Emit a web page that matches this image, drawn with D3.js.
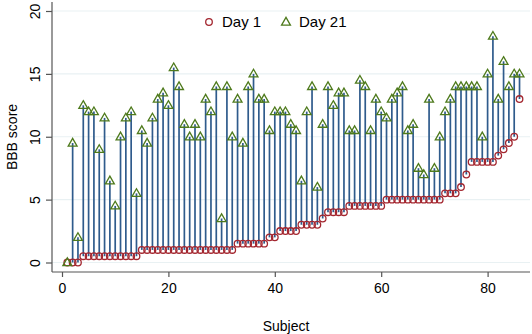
<!DOCTYPE html>
<html>
<head>
<meta charset="utf-8">
<script src="https://cdn.jsdelivr.net/npm/d3@7"></script>
<style>
  body { margin: 0; background: #fff; }
  svg text { font-family: "Liberation Sans", Arial, sans-serif; fill: #000; }
</style>
</head>
<body>
<div id="chart"></div>
<script>
// BBB score per subject
var subjects = d3.range(1, 87);

var day1 = [0, 0, 0,
    0.5, 0.5, 0.5, 0.5, 0.5, 0.5, 0.5, 0.5, 0.5, 0.5, 0.5,
    1, 1, 1, 1, 1, 1, 1, 1, 1, 1, 1, 1, 1, 1, 1, 1, 1, 1,
    1.5, 1.5, 1.5, 1.5, 1.5, 1.5,
    2, 2,
    2.5, 2.5, 2.5, 2.5,
    3, 3, 3, 3,
    3.5,
    4, 4, 4, 4,
    4.5, 4.5, 4.5, 4.5, 4.5, 4.5, 4.5,
    5, 5, 5, 5, 5, 5, 5, 5, 5, 5, 5,
    5.5, 5.5, 5.5,
    6, 7,
    8, 8, 8, 8, 8,
    8.5, 9, 9.5, 10, 13];

var day21 = [0, 9.5, 2, 12.5, 12, 12, 9, 11.5, 6.5, 4.5,
    10, 11.5, 12, 5.5, 10.5, 9.5, 11.5, 13, 13.5, 12.5,
    15.5, 14, 11, 10, 11, 10, 13, 12, 14, 3.5,
    14, 10, 13, 9.5, 14, 15, 13, 13, 10.5, 12,
    12, 12, 11, 10.5, 6.5, 12, 14, 6, 11, 14,
    12.5, 13.5, 13.5, 10.5, 10.5, 14.5, 14, 10.5, 13, 12,
    11.5, 13, 13.5, 14, 10.5, 11, 7.5, 7, 13, 7.5,
    10, 12, 13, 14, 14, 14, 14, 14, 10, 15,
    18, 13, 16, 14, 15, 15];

var xTicks = [0, 20, 40, 60, 80];
var yTicks = [0, 5, 10, 15, 20];
var seriesNames = ["Day 1", "Day 21"];

var data = subjects.map(function(s, i) {
    return { subject: s, d1: day1[i], d21: day21[i] };
});

var width = 532, height = 334;
var circleColor = "#a3262f", triColor = "#4e7a1c", spikeColor = "#2f5b8c", gridColor = "#e9f1f3";

var svg = d3.select("#chart").append("svg")
    .attr("width", width)
    .attr("height", height);

// Scales (plot region spans x 52..530, y 2..272)
var x = d3.scaleLinear()
    .domain([0, 80])
    .range([62, 487.6]);

var y = d3.scaleLinear()
    .domain([0, 20])
    .range([262.5, 11]);

var plotLeft = 52, plotRight = 530, plotTop = 2, plotBottom = 272;

// gridlines
svg.append("g").selectAll("line")
    .data(yTicks)
    .enter().append("line")
    .attr("x1", plotLeft)
    .attr("x2", plotRight)
    .attr("y1", function(d) { return y(d); })
    .attr("y2", function(d) { return y(d); })
    .style("stroke", gridColor)
    .style("stroke-width", 1.2);

// axes
var yAxis = d3.axisLeft(y).tickValues(yTicks).tickSize(6).tickPadding(6);
var xAxis = d3.axisBottom(x).tickValues(xTicks).tickSize(5).tickPadding(6);

var gy = svg.append("g")
    .attr("class", "y-axis axis")
    .attr("transform", "translate(" + plotLeft + ",0)")
    .call(yAxis);
gy.select(".domain").remove();
gy.selectAll("text")
    .attr("transform", "translate(-17,0) rotate(-90)")
    .attr("x", 0)
    .attr("y", 0)
    .attr("dy", "0.35em")
    .style("text-anchor", "middle")
    .style("font-size", "14px");

var gx = svg.append("g")
    .attr("class", "x-axis axis")
    .attr("transform", "translate(0," + plotBottom + ")")
    .call(xAxis);
gx.select(".domain").remove();
gx.selectAll("text")
    .style("font-size", "14px");

svg.selectAll(".axis line").style("stroke", "#555").style("stroke-width", 1.2);

svg.append("line")
    .attr("x1", plotLeft).attr("x2", plotLeft)
    .attr("y1", plotTop).attr("y2", plotBottom)
    .style("stroke", "#555").style("stroke-width", 1.2);
svg.append("line")
    .attr("x1", plotLeft).attr("x2", plotRight)
    .attr("y1", plotBottom).attr("y2", plotBottom)
    .style("stroke", "#555").style("stroke-width", 1.2);

// axis labels
svg.append("text")
    .attr("x", 286)
    .attr("y", 331)
    .style("text-anchor", "middle")
    .style("font-size", "14px")
    .text("Subject");

svg.append("text")
    .attr("transform", "translate(17," + ((plotTop + plotBottom) / 2) + ") rotate(-90)")
    .style("text-anchor", "middle")
    .style("font-size", "14px")
    .text("BBB score");

// spikes
svg.append("g").selectAll("line")
    .data(data)
    .enter().append("line")
    .attr("x1", function(d) { return x(d.subject); })
    .attr("x2", function(d) { return x(d.subject); })
    .attr("y1", function(d) { return y(d.d1); })
    .attr("y2", function(d) { return y(d.d21); })
    .style("stroke", spikeColor)
    .style("stroke-width", 1.7);

var tri = d3.symbol().type(d3.symbolTriangle).size(34);

// Day 1 circles
svg.append("g").selectAll("circle")
    .data(data)
    .enter().append("circle")
    .attr("cx", function(d) { return x(d.subject); })
    .attr("cy", function(d) { return y(d.d1); })
    .attr("r", 3.3)
    .style("fill", "none")
    .style("stroke", circleColor)
    .style("stroke-width", 1.3);

// Day 21 triangles
svg.append("g").selectAll("path")
    .data(data)
    .enter().append("path")
    .attr("d", tri)
    .attr("transform", function(d) { return "translate(" + x(d.subject) + "," + (y(d.d21) + 0.5) + ")"; })
    .style("fill", "none")
    .style("stroke", triColor)
    .style("stroke-width", 1.3);

// legend
var legend = svg.append("g");
legend.append("circle")
    .attr("cx", 209).attr("cy", 22).attr("r", 3.3)
    .style("fill", "none").style("stroke", circleColor).style("stroke-width", 1.3);
legend.append("text")
    .attr("x", 222).attr("y", 27)
    .style("font-size", "15px")
    .text(seriesNames[0]);
legend.append("path")
    .attr("d", tri)
    .attr("transform", "translate(286,22.5)")
    .style("fill", "none").style("stroke", triColor).style("stroke-width", 1.3);
legend.append("text")
    .attr("x", 299).attr("y", 27)
    .style("font-size", "15px")
    .text(seriesNames[1]);
</script>
</body>
</html>
